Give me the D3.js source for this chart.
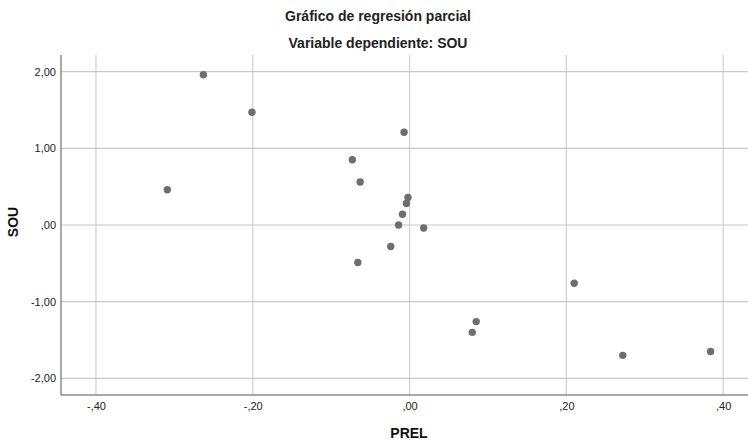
<!DOCTYPE html>
<html>
<head>
<meta charset="utf-8">
<style>
body { margin: 0; background: #fff; }
svg { font-family: "Liberation Sans", Arial, sans-serif; }
.axis .domain { display: none; }
.axis .tick line { display: none; }
</style>
</head>
<body>
<svg width="748" height="442"></svg>
<script src="https://d3js.org/d3.v7.min.js"></script>
<script>

// residuals
var prel = [-0.309, -0.263, -0.201, -0.007, -0.073, -0.063, -0.002, -0.004, -0.009, -0.014,
            0.018, -0.024, -0.066, 0.210, 0.085, 0.080, 0.272, 0.384];
var sou  = [0.46, 1.96, 1.47, 1.21, 0.85, 0.56, 0.36, 0.28, 0.14, 0.00,
            -0.04, -0.28, -0.49, -0.76, -1.26, -1.40, -1.70, -1.65];

var xTicks = [-0.4, -0.2, 0, 0.2, 0.4];
var yTicks = [-2, -1, 0, 1, 2];

var title1 = "Gráfico de regresión parcial",
    title2 = "Variable dependiente: SOU",
    xLabel = "PREL",
    yLabel = "SOU";

var svg = d3.select("svg"),
    margin = {top: 55, right: 0, bottom: 47, left: 61},
    width = +svg.attr("width") - margin.left - margin.right,
    height = +svg.attr("height") - margin.top - margin.bottom,
    g = svg.append("g").attr("transform", "translate(" + margin.left + "," + margin.top + ")");

var x = d3.scaleLinear().domain([-0.4446, 0.4317]).range([0, width]);
var y = d3.scaleLinear().domain([-2.217, 2.217]).range([height, 0]);

// spss style numbers: ",20" "-1,00"
function fmt(d, digits) {
  var s = Math.abs(d).toFixed(digits).replace(".", ",");
  if (Math.abs(d) < 1) s = s.replace(/^0/, "");
  return (d < 0 ? "-" : "") + s;
}

// grid
g.append("g").selectAll("line")
  .data(xTicks).enter().append("line")
    .attr("x1", function(d) { return x(d); })
    .attr("x2", function(d) { return x(d); })
    .attr("y1", 0).attr("y2", height)
    .attr("stroke", "#cfcfcf").attr("stroke-width", 1.2);

g.append("g").selectAll("line")
  .data(yTicks).enter().append("line")
    .attr("x1", 0).attr("x2", width)
    .attr("y1", function(d) { return y(d); })
    .attr("y2", function(d) { return y(d); })
    .attr("stroke", "#c8c8c8").attr("stroke-width", 1.2);

// axes
g.append("g")
    .attr("class", "axis")
    .attr("transform", "translate(0," + height + ")")
    .call(d3.axisBottom(x).tickValues(xTicks).tickSize(0).tickPadding(7).tickFormat(function(d) { return fmt(d, 2); }))
    .selectAll("text").attr("font-size", 11).attr("fill", "#222").attr("font-family", "Liberation Sans, Arial, sans-serif");

g.append("g")
    .attr("class", "axis")
    .call(d3.axisLeft(y).tickValues(yTicks).tickSize(0).tickPadding(5).tickFormat(function(d) { return fmt(d, 2); }))
    .selectAll("text").attr("font-size", 11).attr("fill", "#222").attr("font-family", "Liberation Sans, Arial, sans-serif");

g.append("line").attr("x1", 0).attr("x2", 0).attr("y1", 0).attr("y2", height)
    .attr("stroke", "#8c8c8c").attr("stroke-width", 1.5);
g.append("line").attr("x1", 0).attr("x2", width).attr("y1", height).attr("y2", height)
    .attr("stroke", "#8c8c8c").attr("stroke-width", 1.5);

// points
g.append("g").selectAll("circle")
  .data(prel).enter().append("circle")
    .attr("cx", function(d) { return x(d); })
    .attr("cy", function(d, i) { return y(sou[i]); })
    .attr("r", 3.7)
    .attr("fill", "#6e6e6e");

// titles
svg.append("text").attr("x", 378).attr("y", 21).attr("text-anchor", "middle")
    .attr("font-size", 14).attr("font-weight", "bold").attr("fill", "#222").text(title1);
svg.append("text").attr("x", 378).attr("y", 48).attr("text-anchor", "middle")
    .attr("font-size", 14).attr("font-weight", "bold").attr("fill", "#222").text(title2);

svg.append("text").attr("x", 409).attr("y", 438).attr("text-anchor", "middle")
    .attr("font-size", 14).attr("font-weight", "bold").attr("fill", "#111").text(xLabel);
svg.append("text").attr("transform", "translate(18,222) rotate(-90)").attr("text-anchor", "middle")
    .attr("font-size", 14).attr("font-weight", "bold").attr("fill", "#111").text(yLabel);

</script>
</body>
</html>
